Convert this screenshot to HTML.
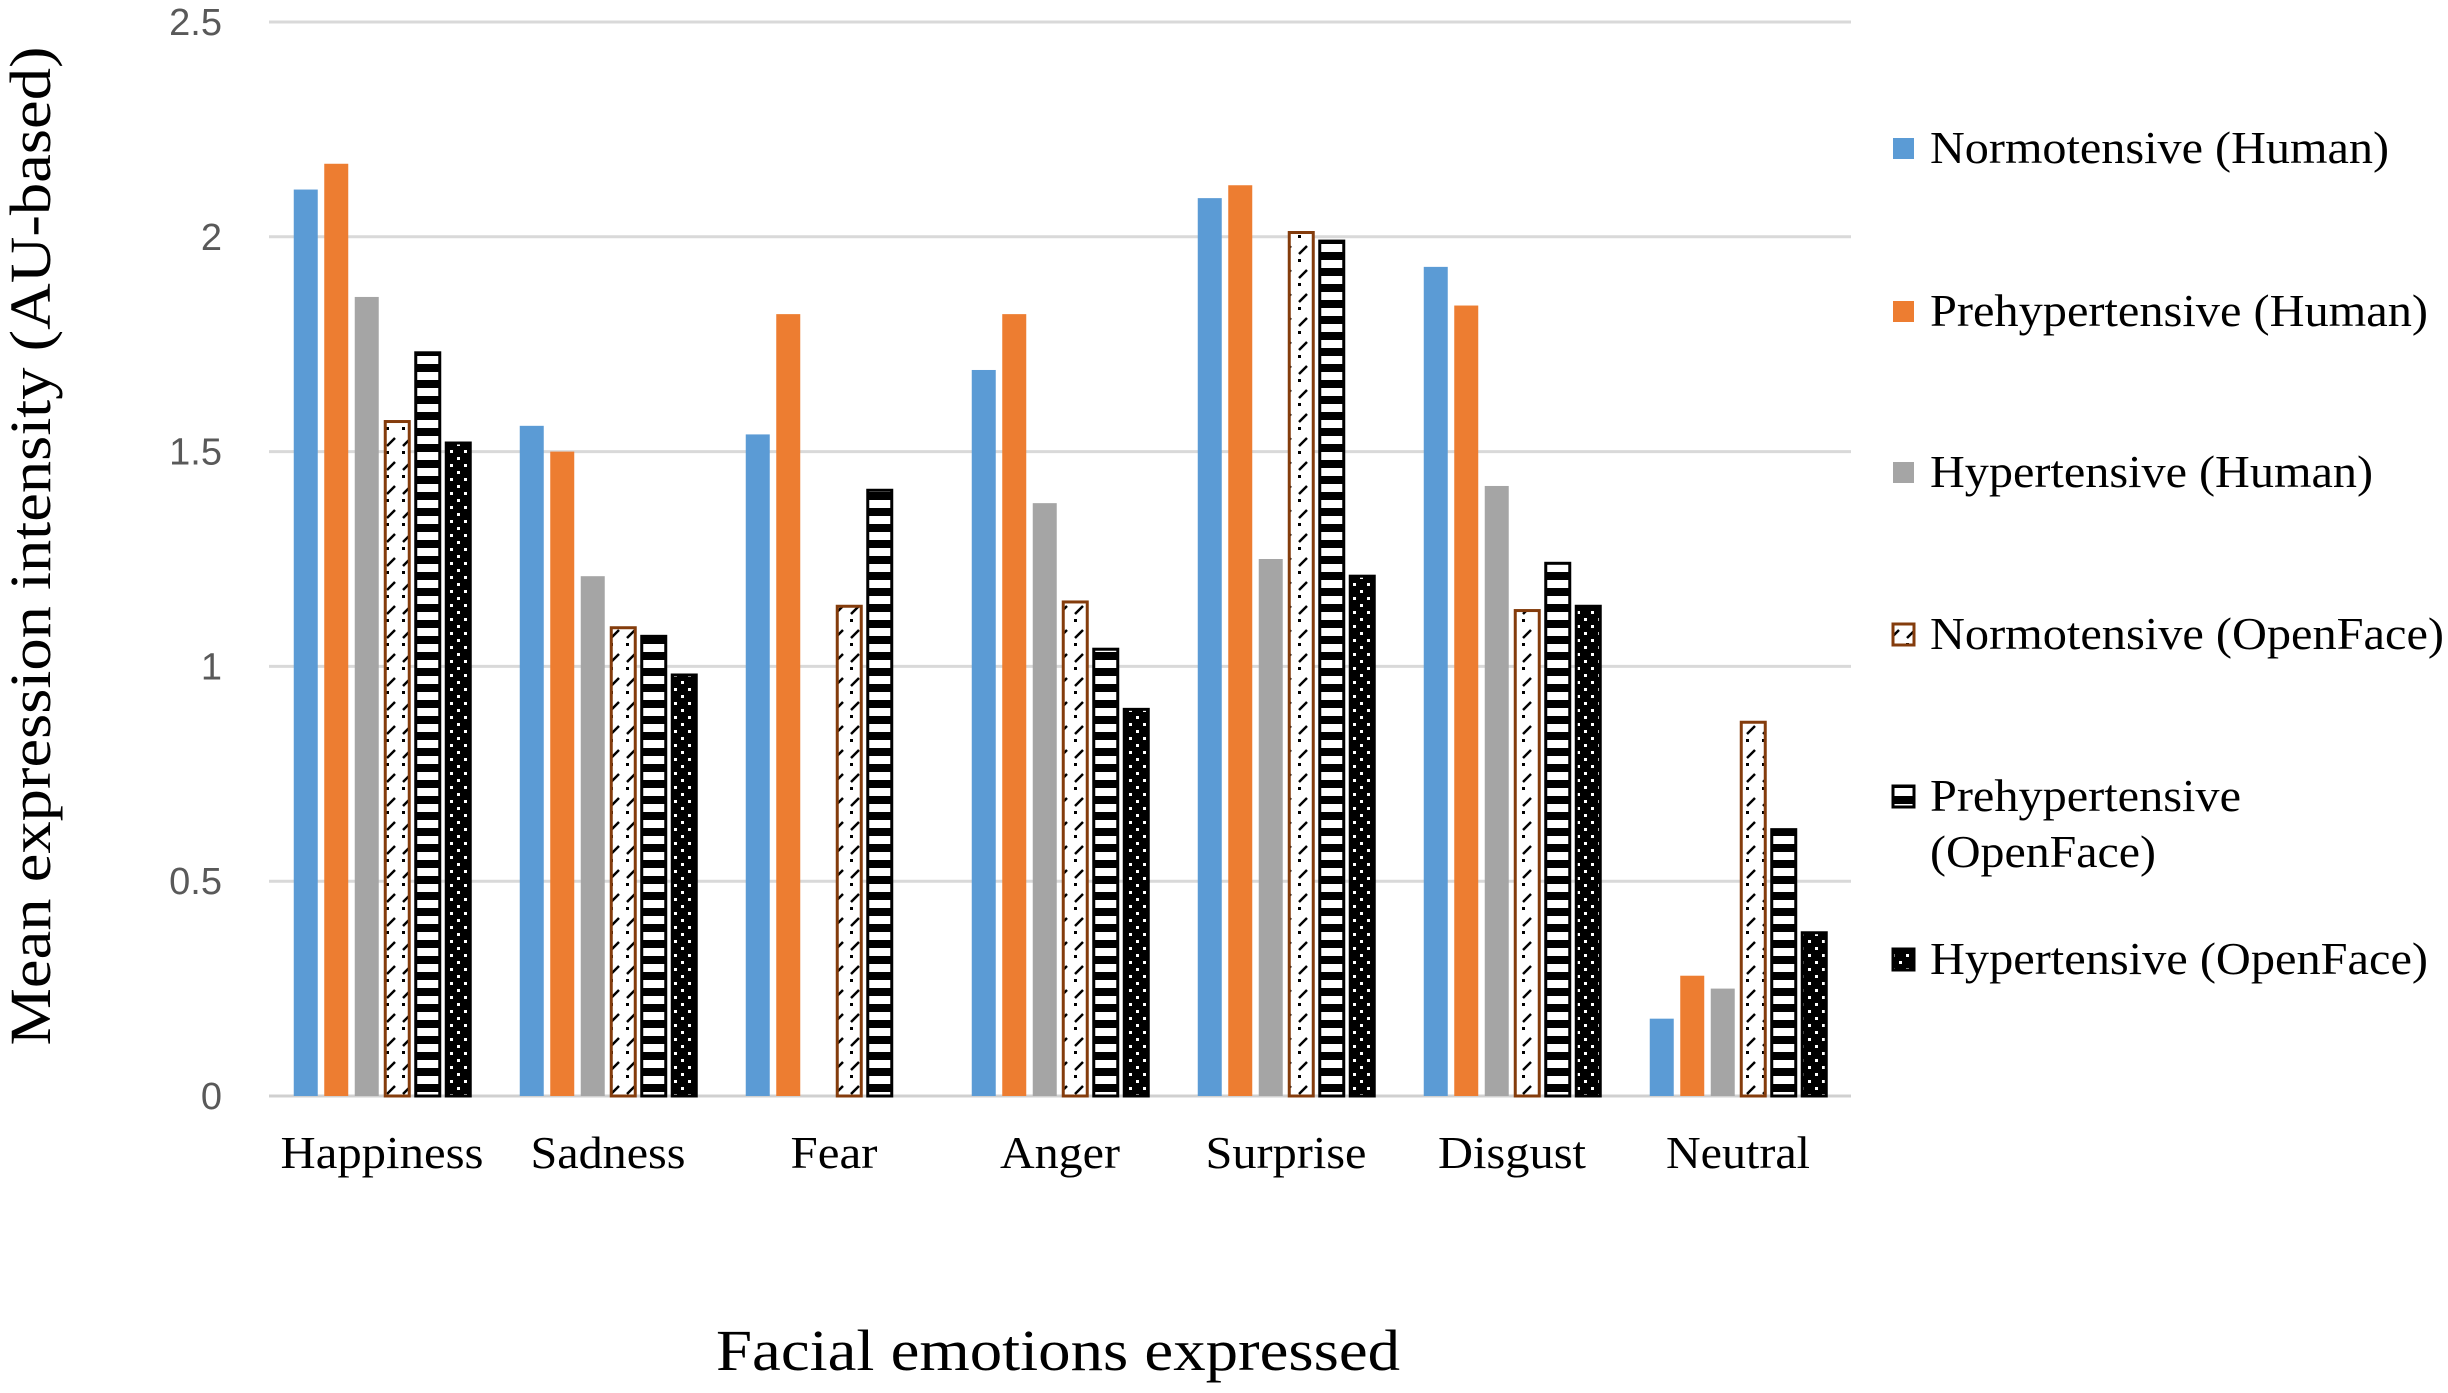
<!DOCTYPE html>
<html><head><meta charset="utf-8"><style>
html,body{margin:0;padding:0;background:#fff;}
svg{display:block;}
</style></head><body>
<svg id="chart" width="2448" height="1393" viewBox="0 0 2448 1393" xmlns="http://www.w3.org/2000/svg">
<defs>
<pattern id="pNormOF" width="16" height="24" patternUnits="userSpaceOnUse">
<rect width="16" height="24" fill="#fff"/>
<line x1="3" y1="14" x2="11" y2="6" stroke="#000" stroke-width="2.5"/>
<rect x="2" y="19" width="3" height="3" fill="#000"/>
</pattern>
<pattern id="pPreOF" width="20" height="16" patternUnits="userSpaceOnUse">
<rect width="20" height="16" fill="#000"/>
<rect x="0" y="4" width="20" height="8" fill="#fff"/>
</pattern>
<pattern id="pHypOF" width="14" height="14" patternUnits="userSpaceOnUse">
<rect width="14" height="14" fill="#000"/>
<rect x="2" y="2" width="3" height="3" fill="#fff"/>
<rect x="9" y="9" width="3" height="3" fill="#fff"/>
</pattern>
</defs>
<g id="grid"></g>
<g id="bars"></g>
<g id="labels"></g>
<text transform="translate(50,546) rotate(-90)" text-anchor="middle" font-family="Liberation Serif, serif" font-size="58" fill="#000" textLength="999" lengthAdjust="spacingAndGlyphs">Mean expression intensity (AU-based)</text>
<text x="1058" y="1370" text-anchor="middle" font-family="Liberation Serif, serif" font-size="58" fill="#000" textLength="684" lengthAdjust="spacingAndGlyphs">Facial emotions expressed</text>
<g id="legend"></g>
</svg>
<script>
const categories = ["Happiness","Sadness","Fear","Anger","Surprise","Disgust","Neutral"];
const seriesNames = ["Normotensive (Human)","Prehypertensive (Human)","Hypertensive (Human)","Normotensive (OpenFace)","Prehypertensive (OpenFace)","Hypertensive (OpenFace)"];
const normHuman = [2.11,1.56,1.54,1.69,2.09,1.93,0.18];
const preHuman  = [2.17,1.50,1.82,1.82,2.12,1.84,0.28];
const hypHuman  = [1.86,1.21,0,1.38,1.25,1.42,0.25];
const normOF    = [1.57,1.09,1.14,1.15,2.01,1.13,0.87];
const preOF     = [1.73,1.07,1.41,1.04,1.99,1.24,0.62];
const hypOF     = [1.52,0.98,0,0.90,1.21,1.14,0.38];
const yTicks = [0,0.5,1,1.5,2,2.5];
const yTickLabels = ["0","0.5","1","1.5","2","2.5"];
const catLabelLen = [203,155,87,120,161,148,144];
const legendLen = [459,498,443,514,311,498];

const NS="http://www.w3.org/2000/svg";
const X0=269, X1=1851, Y0=1096, Y1=22, YMAX=2.5;
const catW=(X1-X0)/categories.length, pitch=30.5, barW=24;
function yScale(v){return Y0-(v/YMAX)*(Y0-Y1);}
function xBar(ci,si){return X0+ci*catW+(catW-6*pitch)/2+si*pitch+(pitch-barW)/2;}
function mk(tag,attrs,parent){const e=document.createElementNS(NS,tag);for(const k in attrs)e.setAttribute(k,attrs[k]);parent.appendChild(e);return e;}

const grid=document.getElementById('grid');
yTicks.forEach((t,i)=>{
  const y=yScale(t);
  const l=mk('line',{x1:X0,x2:X1,y1:y,y2:y,stroke:i===0?'#d0d0d0':'#d9d9d9','stroke-width':3},grid);
  
  
  const tx=mk('text',{x:222,y:y+13,'text-anchor':'end','font-family':'Liberation Sans, sans-serif','font-size':38,fill:'#595959'},grid);
  tx.textContent=yTickLabels[i];
  
  
});

const series=[normHuman,preHuman,hypHuman,normOF,preOF,hypOF];
const styles=[
 {fill:'#5b9bd5'},{fill:'#ed7d31'},{fill:'#a5a5a5'},
 {fill:'url(#pNormOF)',stroke:'#843c0c','stroke-width':3},
 {fill:'url(#pPreOF)',stroke:'#000','stroke-width':3},
 {fill:'url(#pHypOF)',stroke:'#000','stroke-width':3}];
const bars=document.getElementById('bars');
categories.forEach((c,ci)=>{
  series.forEach((s,si)=>{
    const v=s[ci]; if(v<=0) return;
    const y=yScale(v);
    const a=Object.assign({x:xBar(ci,si),y:y,width:barW,height:Y0-y},styles[si]);
    const r=mk('rect',a,bars);
    
    
  });
});
const labels=document.getElementById('labels');
categories.forEach((c,ci)=>{
  const t=mk('text',{x:X0+ci*catW+catW/2,y:1168,'text-anchor':'middle','font-family':'Liberation Serif, serif','font-size':46,fill:'#000',textLength:catLabelLen[ci],lengthAdjust:'spacingAndGlyphs'},labels);
  t.textContent=c;
  
  
});
const legend=document.getElementById('legend');
const legY=[151,314,475,637,799,962];
seriesNames.forEach((n,i)=>{
  const y=legY[i];
  const sw=mk('rect',Object.assign({x:1893,y:y-13,width:21,height:21},styles[i]),legend);
  
  
  const t=mk('text',{x:1930,y:y+12,'font-family':'Liberation Serif, serif','font-size':46,fill:'#000'},legend);
  
  
  if(i===4){
    const a=mk('tspan',{x:1930,textLength:311,lengthAdjust:'spacingAndGlyphs'},t);a.textContent='Prehypertensive';
    const b=mk('tspan',{x:1930,dy:56,textLength:226,lengthAdjust:'spacingAndGlyphs'},t);b.textContent='(OpenFace)';
  } else {
    t.setAttribute('textLength',legendLen[i]);
    t.setAttribute('lengthAdjust','spacingAndGlyphs');
    t.textContent=n;
  }
});
</script>
</body></html>
